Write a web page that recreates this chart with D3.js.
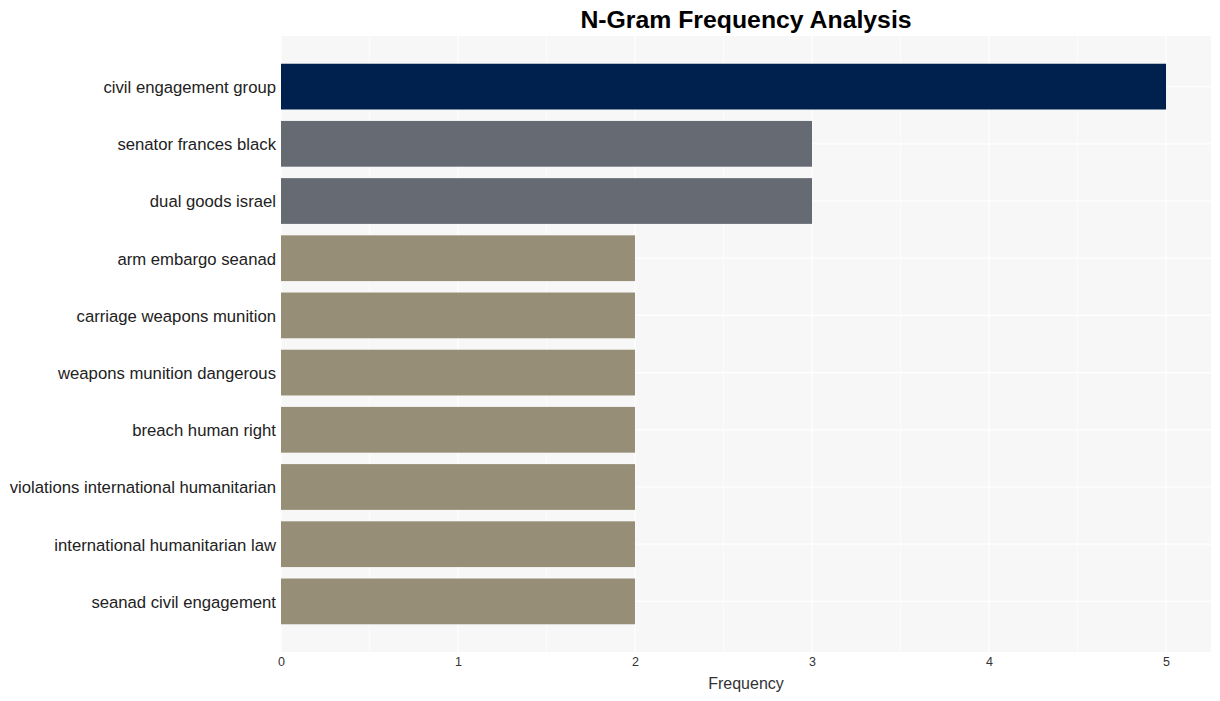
<!DOCTYPE html>
<html><head><meta charset="utf-8">
<script src="https://cdn.jsdelivr.net/npm/d3@7"></script>
<style>body{margin:0;background:#fff;font-family:"Liberation Sans",Arial,sans-serif;}</style>
</head><body><svg id="c" width="1220" height="701"></svg>
<script>
const categories = ["civil engagement group","senator frances black","dual goods israel","arm embargo seanad","carriage weapons munition","weapons munition dangerous","breach human right","violations international humanitarian","international humanitarian law","seanad civil engagement"];
const values = [5,3,3,2,2,2,2,2,2,2];
const colors = ["#00214d","#666a73","#666a73","#968e76","#968e76","#968e76","#968e76","#968e76","#968e76","#968e76"];
const xTicks = [0,1,2,3,4,5];

const svg = d3.select("#c");
const L=281, R=1211, T=36, B=652;
const x = d3.scaleLinear().domain([0,5.254]).range([L,R]);
const y = d3.scaleBand().domain(categories).range([T,B]).paddingInner(0.2).paddingOuter(0.485);

svg.append("rect").attr("x",L).attr("y",T).attr("width",R-L).attr("height",B-T).attr("fill","#f7f7f7");
svg.append("g").selectAll("line").data(d3.range(0.5,5.3,1)).join("line")
  .attr("x1",d=>x(d)).attr("x2",d=>x(d)).attr("y1",T).attr("y2",B).attr("stroke","#fff").attr("stroke-width",0.6);
svg.append("g").selectAll("line").data(xTicks).join("line")
  .attr("x1",d=>x(d)).attr("x2",d=>x(d)).attr("y1",T).attr("y2",B).attr("stroke","#fff").attr("stroke-width",1.2);
svg.append("g").selectAll("line").data(categories).join("line")
  .attr("x1",L).attr("x2",R).attr("y1",d=>y(d)+y.bandwidth()/2).attr("y2",d=>y(d)+y.bandwidth()/2).attr("stroke","#fff").attr("stroke-width",1.2);

svg.append("g").selectAll("rect").data(categories).join("rect")
  .attr("x",x(0)).attr("y",d=>y(d)).attr("width",(d,i)=>x(values[i])-x(0)).attr("height",y.bandwidth())
  .attr("fill",(d,i)=>colors[i]);

const xa = svg.append("g").attr("transform",`translate(0,${B})`).call(d3.axisBottom(x).tickValues(xTicks).tickFormat(d3.format("d")).tickSize(0).tickPadding(5));
xa.select(".domain").remove();
xa.selectAll("text").attr("font-size",12.5).attr("fill","#333").attr("font-family","Liberation Sans, Arial, sans-serif");

const ya = svg.append("g").attr("transform",`translate(${L},0)`).call(d3.axisLeft(y).tickSize(0).tickPadding(5));
ya.select(".domain").remove();
ya.selectAll("text").attr("font-size",16.7).attr("dy","0.38em").attr("fill","#222").attr("font-family","Liberation Sans, Arial, sans-serif");

svg.append("text").attr("x",(L+R)/2).attr("y",689).attr("text-anchor","middle").attr("font-size",16).attr("fill","#333").text("Frequency");
svg.append("text").attr("x",(L+R)/2).attr("y",28).attr("text-anchor","middle").attr("font-size",24.8).attr("font-weight","bold").attr("fill","#000").text("N-Gram Frequency Analysis");
</script></body></html>
